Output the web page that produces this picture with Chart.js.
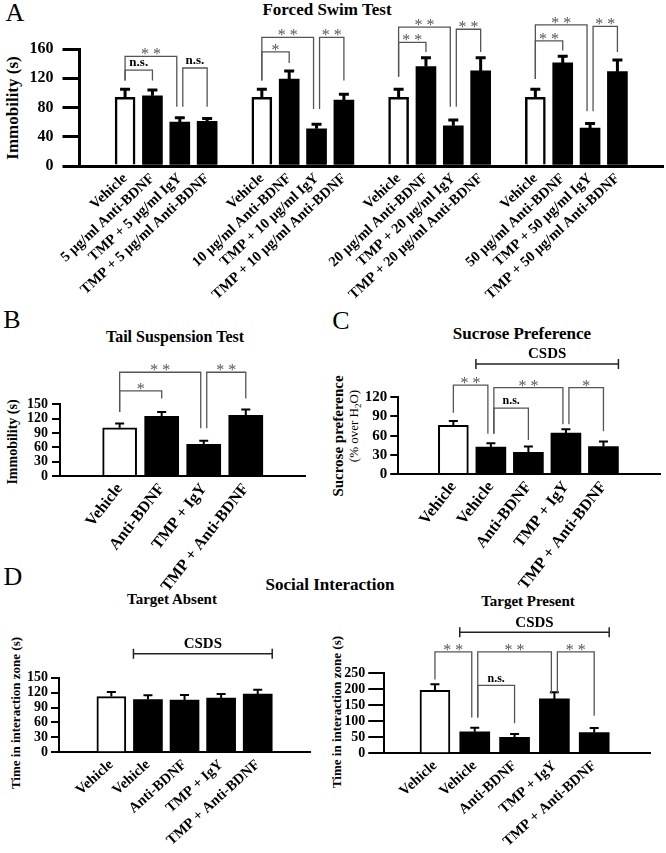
<!DOCTYPE html>
<html>
<head>
<meta charset="utf-8">
<script src="https://cdn.jsdelivr.net/npm/chart.js@4.4.0/dist/chart.umd.min.js"></script>
<style>
  html, body { margin: 0; padding: 0; background: #fff; }
  body { width: 666px; height: 853px; position: relative; overflow: hidden;
         font-family: 'Liberation Serif', 'Times New Roman', serif; color: #000; }
  canvas { position: absolute; }
  .t { position: absolute; transform: translate(-50%, -50%); white-space: nowrap; line-height: 1; }
  .b { font-weight: bold; }
  .r { transform: translate(-50%, -50%) rotate(-90deg); }
</style>
</head>
<body>
<!-- panel letters -->
<div class="t" style="left:15px;top:13px;font-size:26px">A</div>
<div class="t" style="left:12px;top:320px;font-size:26px">B</div>
<div class="t" style="left:341px;top:321px;font-size:26px">C</div>
<div class="t" style="left:13px;top:577px;font-size:26px">D</div>

<!-- titles -->
<div class="t b" style="left:327px;top:9px;font-size:17px">Forced Swim Test</div>
<div class="t b" style="left:175px;top:337px;font-size:16px">Tail Suspension Test</div>
<div class="t b" style="left:522px;top:333px;font-size:17px">Sucrose Preference</div>
<div class="t b" style="left:330px;top:584px;font-size:17px">Social Interaction</div>
<div class="t b" style="left:172px;top:599px;font-size:15px">Target Absent</div>
<div class="t b" style="left:528px;top:601px;font-size:15px">Target Present</div>

<!-- y axis titles -->
<div class="t b r" style="left:12px;top:108px;font-size:17px">Immobility (s)</div>
<div class="t b r" style="left:13px;top:442px;font-size:14px">Immobility (s)</div>
<div class="t b r" style="left:338px;top:436px;font-size:15px">Sucrose preference</div>
<div class="t r" style="left:355px;top:426px;font-size:13px">(% over H<sub style="font-size:9px">2</sub>O)</div>
<div class="t b r" style="left:15px;top:713px;font-size:13px">Time in interaction zone (s)</div>
<div class="t b r" style="left:336px;top:712px;font-size:13px">Time in interaction zone (s)</div>

<canvas id="fst"></canvas>
<canvas id="tst"></canvas>
<canvas id="spt"></canvas>
<canvas id="siAbsent"></canvas>
<canvas id="siPresent"></canvas>

<script>
/*=============== DATA ===============*/
// A - forced swim test, four dose groups of four bars
const fstLabels = [
  'Vehicle', '5 µg/ml Anti-BDNF', 'TMP + 5 µg/ml IgY', 'TMP + 5 µg/ml Anti-BDNF',
  'Vehicle', '10 µg/ml Anti-BDNF', 'TMP + 10 µg/ml IgY', 'TMP + 10 µg/ml Anti-BDNF',
  'Vehicle', '20 µg/ml Anti-BDNF', 'TMP + 20 µg/ml IgY', 'TMP + 20 µg/ml Anti-BDNF',
  'Vehicle', '50 µg/ml Anti-BDNF', 'TMP + 50 µg/ml IgY', 'TMP + 50 µg/ml Anti-BDNF'
];
const fstMeans  = [94, 96, 60, 61,  94, 119, 51, 90,  94, 136, 55, 130,  94, 141, 52, 129];
const fstErrors = [11, 8, 6, 4,     11, 11, 6, 8,     11, 12, 8, 18,     11, 9, 6, 16];
const fstTicks  = [0, 40, 80, 120, 160];
// [from bar, to bar, bracket level, left leg end, right leg end, mark]
const fstBrackets = [
  [0, 2, 150, 117, 81, '* *'], [0, 1, 131, 117, 117, 'n.s.'], [2, 3, 134, 81, 81, 'n.s.'],
  [4, 6, 176, 117, 78, '* *'], [4, 5, 156, 117, 141, '*'], [6, 7, 176, 78, 117, '* *'],
  [8, 10, 190, 122, 81, '* *'], [8, 9, 169, 122, 156, '* *'], [10, 11, 187, 81, 156, '* *'],
  [12, 14, 193, 119, 75, '* *'], [12, 13, 171, 119, 158, '* *'], [14, 15, 191, 75, 156, '* *']
];

// B - tail suspension test
const tstLabels   = ['Vehicle', 'Anti-BDNF', 'TMP + IgY', 'TMP + Anti-BDNF'];
const tstMeans    = [101, 125, 66, 127];
const tstErrors   = [9, 9, 8, 12];
const tstTicks    = [0, 30, 60, 90, 120, 150];
const tstBrackets = [[0, 2, 217, 134, 100, '* *'], [0, 1, 178, 134, 162, '*'], [2, 3, 217, 100, 162, '* *']];

// C - sucrose preference
const sptLabels   = ['Vehicle', 'Vehicle', 'Anti-BDNF', 'TMP + IgY', 'TMP + Anti-BDNF'];
const sptMeans    = [76, 42, 34, 64, 43];
const sptErrors   = [7, 6, 9, 6, 8];
const sptTicks    = [0, 30, 60, 90, 120];
const sptBrackets = [[0, 1, 139, 96, 63, '* *'], [1, 3, 135, 63, 78, '* *'], [1, 2, 103, 63, 53, 'n.s.'], [3, 4, 135, 78, 67, '*']];
const sptCsds     = [1, 4, 172];

// D - social interaction, target absent / present
const siLabels      = ['Vehicle', 'Vehicle', 'Anti-BDNF', 'TMP + IgY', 'TMP + Anti-BDNF'];
const absentMeans   = [112, 106, 105, 109, 117];
const absentErrors  = [9, 8.5, 10, 8, 9];
const absentTicks   = [0, 30, 60, 90, 120, 150];
const absentCsds    = [1, 4, 198];
const presentMeans  = [197, 67, 50, 170, 65];
const presentErrors = [19, 13, 10, 21, 14];
const presentTicks  = [0, 50, 100, 150, 200, 250];
const presentBrackets = [[0, 1, 317, 231, 112, '* *'], [1, 3, 317, 112, 187, '* *'], [1, 2, 212, 112, 94, 'n.s.'], [3, 4, 317, 187, 117, '* *']];
const presentCsds   = [1, 4, 378];

/*=============== MARKS (error bars, brackets, CSDS) ===============*/
const makeMarks = o => ({
  id: 'marks',
  afterDatasetsDraw(chart) {
    const ctx = chart.ctx, ys = chart.scales.y;
    const bars = chart.getDatasetMeta(0).data;
    ctx.save();

    // error bars, upper half only
    ctx.strokeStyle = '#000';
    ctx.lineWidth = o.errW;
    bars.forEach((b, i) => {
      const top = ys.getPixelForValue(o.means[i] + o.errors[i]);
      ctx.beginPath();
      ctx.moveTo(b.x, b.y);
      ctx.lineTo(b.x, top);
      ctx.moveTo(b.x - o.capW / 2, top);
      ctx.lineTo(b.x + o.capW / 2, top);
      ctx.stroke();
    });

    // significance brackets
    const br = o.brackets || [];
    const starts = new Set(br.map(b => b[0])), ends = new Set(br.map(b => b[1]));
    ctx.strokeStyle = '#555';
    ctx.lineWidth = 1.3;
    ctx.textAlign = 'center';
    br.forEach(([a, b, level, l1, l2, mark]) => {
      const x1 = bars[a].x + (ends.has(a) ? 3 : 0);
      const x2 = bars[b].x - (starts.has(b) ? 3 : 0);
      const yh = ys.getPixelForValue(level);
      ctx.beginPath();
      ctx.moveTo(x1, ys.getPixelForValue(l1));
      ctx.lineTo(x1, yh);
      ctx.lineTo(x2, yh);
      ctx.lineTo(x2, ys.getPixelForValue(l2));
      ctx.stroke();
      if (mark === 'n.s.') {
        ctx.fillStyle = '#000';
        ctx.font = 'bold ' + o.nsSize + 'px "Liberation Serif"';
        ctx.textBaseline = 'bottom';
        ctx.fillText(mark, (x1 + x2) / 2, yh - 1);
      } else {
        ctx.fillStyle = '#555';
        ctx.font = '16px "Liberation Serif"';
        ctx.textBaseline = 'alphabetic';
        ctx.fillText(mark, (x1 + x2) / 2, yh + 3);
      }
    });

    // CSDS span
    if (o.csds) {
      const [a, b, level] = o.csds;
      const xa = bars[a].x - o.barW / 2, xb = bars[b].x + o.barW / 2;
      const y = ys.getPixelForValue(level);
      ctx.strokeStyle = '#222';
      ctx.lineWidth = 1.5;
      ctx.beginPath();
      ctx.moveTo(xa, y); ctx.lineTo(xb, y);
      ctx.moveTo(xa, y - 5); ctx.lineTo(xa, y + 5);
      ctx.moveTo(xb, y - 5); ctx.lineTo(xb, y + 5);
      ctx.stroke();
      ctx.fillStyle = '#000';
      ctx.font = 'bold 15px "Liberation Serif"';
      ctx.textBaseline = 'bottom';
      ctx.fillText('CSDS', (xa + xb) / 2, y - 2);
    }
    ctx.restore();
  }
});

/*=============== PANEL BUILDER ===============*/
const serif = (size, weight) => ({ family: 'Liberation Serif', size, weight });

const panel = (id, box, plot, o) => {
  const cv = document.getElementById(id);
  cv.width = box.w; cv.height = box.h;
  cv.style.left = box.x + 'px'; cv.style.top = box.y + 'px';

  const g = o.groupSize || o.labels.length;
  const pos = o.labels.map((_, i) => Math.floor(i / g) * (g + 1) + i % g + 1);
  const fills = o.labels.map((_, i) => i % g === 0 ? '#fff' : '#000');

  return new Chart(cv, {
    type: 'bar',
    data: {
      datasets: [{
        data: pos.map((x, i) => ({ x, y: o.means[i] })),
        backgroundColor: fills,
        borderColor: '#000',
        borderWidth: fills.map(f => f === '#fff' ? o.barBorder : 0),
        barThickness: o.barW
      }]
    },
    options: {
      responsive: false,
      animation: false,
      events: [],
      layout: { padding: { left: 0, bottom: 0, top: plot.top - box.y, right: box.x + box.w - plot.right } },
      plugins: { legend: { display: false }, tooltip: { enabled: false } },
      scales: {
        x: {
          type: 'linear', min: o.xMin, max: o.xMax,
          afterFit: s => { s.height = box.y + box.h - plot.bottom; },
          afterBuildTicks: s => { s.ticks = pos.map(v => ({ value: v })); },
          grid: { display: false, drawTicks: false },
          border: { display: true, color: '#000', width: o.axisW },
          ticks: {
            autoSkip: false, minRotation: o.rot, maxRotation: o.rot, padding: o.xPad,
            color: '#000', font: serif(o.xFont, 'bold'),
            callback: (v, i) => o.labels[i]
          }
        },
        y: {
          min: 0, max: o.yTicks[o.yTicks.length - 1],
          afterFit: s => { s.width = plot.left - box.x; },
          afterBuildTicks: s => { s.ticks = o.yTicks.map(v => ({ value: v })); },
          grid: { display: true, drawOnChartArea: false, drawTicks: true,
                  tickLength: o.tickLen, lineWidth: o.axisW, color: '#000' },
          border: { display: true, color: '#000', width: o.axisW },
          ticks: { autoSkip: false, padding: o.yPad, color: '#000', font: serif(o.yFont, 'bold') }
        }
      }
    },
    plugins: [makeMarks(o)]
  });
};

/*=============== BUILD ===============*/
panel('fst', { x: 0, y: 0, w: 666, h: 310 }, { left: 79.5, right: 663, top: 49, bottom: 166 }, {
  labels: fstLabels, means: fstMeans, errors: fstErrors, yTicks: fstTicks, brackets: fstBrackets,
  groupSize: 4, xMin: 0, xMax: 20, barW: 20, barBorder: 2.5, axisW: 3, tickLen: 17,
  xFont: 14.5, yFont: 16, rot: 43, xPad: 4, yPad: 9, errW: 3, capW: 10, nsSize: 13
});

panel('tst', { x: 0, y: 350, w: 330, h: 260 }, { left: 60, right: 305, top: 404.3, bottom: 476 }, {
  labels: tstLabels, means: tstMeans, errors: tstErrors, yTicks: tstTicks, brackets: tstBrackets,
  xMin: 0.31, xMax: 4.68, barW: 34, barBorder: 2, axisW: 2, tickLen: 8,
  xFont: 16, yFont: 14, rot: 52, xPad: 4, yPad: 4, errW: 2, capW: 9, nsSize: 12
});

panel('spt', { x: 330, y: 340, w: 336, h: 270 }, { left: 398.3, right: 660, top: 397.3, bottom: 474 }, {
  labels: sptLabels, means: sptMeans, errors: sptErrors, yTicks: sptTicks, brackets: sptBrackets, csds: sptCsds,
  xMin: 0.23, xMax: 5.81, barW: 30, barBorder: 2, axisW: 2, tickLen: 8,
  xFont: 16, yFont: 15, rot: 52, xPad: 4, yPad: 3, errW: 2, capW: 9, nsSize: 12
});

panel('siAbsent', { x: 0, y: 615, w: 330, h: 238 }, { left: 59, right: 310.7, top: 677.7, bottom: 752.3 }, {
  labels: siLabels, means: absentMeans, errors: absentErrors, yTicks: absentTicks, csds: absentCsds,
  xMin: 0.257, xMax: 5.76, barW: 29, barBorder: 2, axisW: 2, tickLen: 8,
  xFont: 14.5, yFont: 14, rot: 42, xPad: 4, yPad: 3, errW: 2, capW: 9, nsSize: 12
});

panel('siPresent', { x: 330, y: 605, w: 336, h: 248 }, { left: 384.3, right: 650.7, top: 673.3, bottom: 753.3 }, {
  labels: siLabels, means: presentMeans, errors: presentErrors, yTicks: presentTicks,
  brackets: presentBrackets, csds: presentCsds,
  xMin: 0.397, xMax: 5.75, barW: 30, barBorder: 2, axisW: 2, tickLen: 16,
  xFont: 14.5, yFont: 14, rot: 42, xPad: 4, yPad: 3, errW: 2, capW: 9, nsSize: 12
});
</script>
</body>
</html>
